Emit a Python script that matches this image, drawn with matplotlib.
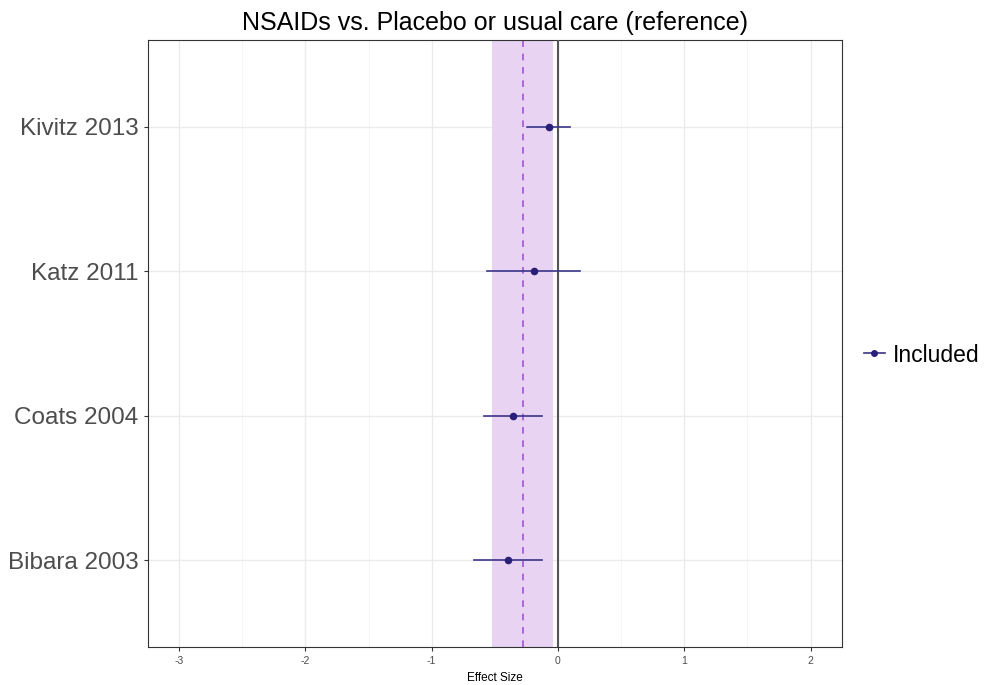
import matplotlib
matplotlib.use("Agg")
import matplotlib.pyplot as plt
from matplotlib.lines import Line2D

plt.rcParams["font.family"] = ["Liberation Sans", "DejaVu Sans"]

studies = ["Bibara 2003", "Coats 2004", "Katz 2011", "Kivitz 2013"]
effect = [-0.393, -0.356, -0.192, -0.074]
ci_low = [-0.662, -0.586, -0.562, -0.243]
ci_high = [-0.127, -0.124, 0.177, 0.098]

pooled = -0.279
pooled_low = -0.523
pooled_high = -0.040

x_ticks = [-3, -2, -1, 0, 1, 2]

W, H = 988, 685
fig = plt.figure(figsize=(W / 100, H / 100), dpi=100)
ax = fig.add_axes([148 / W, 1 - 647 / H, (842 - 148) / W, (647 - 40) / H])

line_col = "#3b3489"
ax.axvspan(pooled_low, pooled_high, color="#e8d3f3", zorder=1, lw=0)
ax.axvline(pooled, color="#a356d6", ls=(0, (4, 4)), lw=1.2, zorder=2)
ax.axvline(0, color="#555555", lw=1.5, zorder=3)

ypos = list(range(1, len(studies) + 1))
for y, lo, hi in zip(ypos, ci_low, ci_high):
    ax.plot([lo, hi], [y, y], color=line_col, lw=1.2, zorder=4)
ax.scatter(effect, ypos, s=20, color="#2a1f78", zorder=5)

ax.set_xlim(-3.246, 2.249)
ax.set_ylim(0.4, len(studies) + 0.6)
ax.set_xticks(x_ticks)
ax.set_xticklabels([str(t) for t in x_ticks], fontsize=7.5, color="#4d4d4d")
ax.set_xticks([t + 0.5 for t in x_ticks[:-1]], minor=True)
ax.set_yticks(ypos)
ax.set_yticklabels(studies, fontsize=17.5, color="#4d4d4d")
ax.tick_params(axis="both", which="major", length=3, color="#333333")
ax.tick_params(axis="x", which="minor", length=0)
ax.tick_params(axis="y", pad=4)

ax.grid(True, which="major", color="#ebebeb", lw=1.0, zorder=0)
ax.grid(True, which="minor", axis="x", color="#f4f4f4", lw=0.6, zorder=0)
ax.set_axisbelow(True)
for s in ax.spines.values():
    s.set_color("#333333")
    s.set_linewidth(0.8)

ax.set_xlabel("Effect Size", fontsize=8.5, labelpad=4)
ax.set_title("NSAIDs vs. Placebo or usual care (reference)", fontsize=18, pad=7)

handle = Line2D([0], [0], color=line_col, lw=1.2, marker="o", markersize=4,
                markerfacecolor="#2a1f78", markeredgecolor="#2a1f78")
fig.legend([handle], ["Included"], loc="center left",
           bbox_to_anchor=(864 / W, 1 - 355 / H), frameon=False,
           borderaxespad=0, borderpad=0,
           fontsize=16.5, handlelength=0.9, handletextpad=0.35)

fig.savefig("out.png", dpi=100)
